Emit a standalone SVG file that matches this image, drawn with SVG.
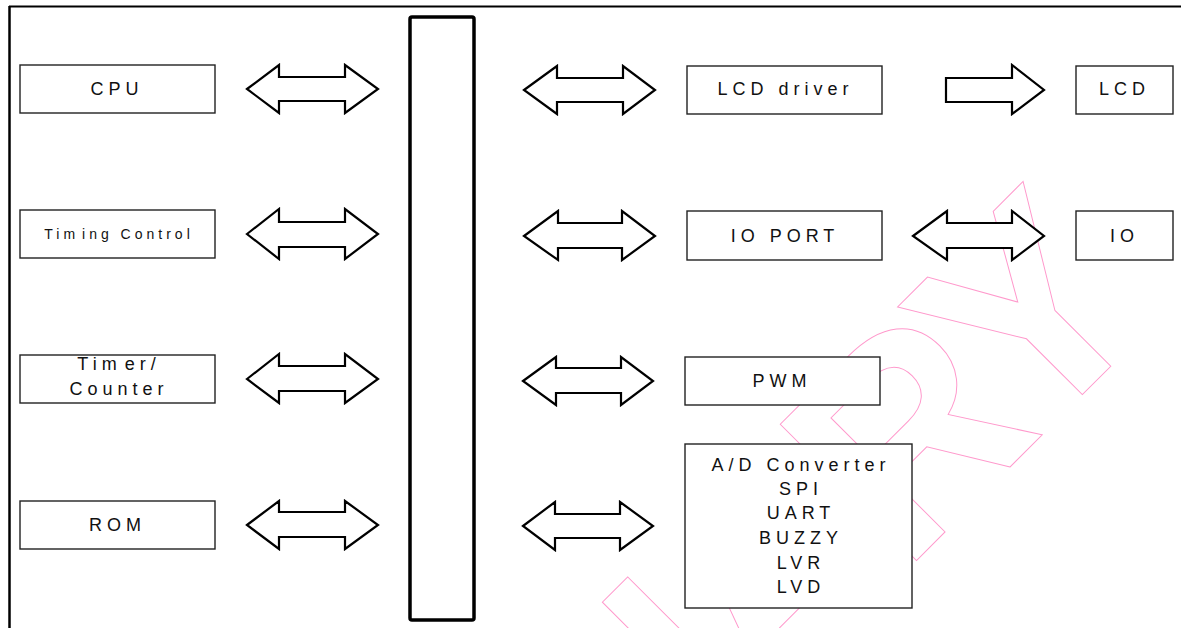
<svg xmlns="http://www.w3.org/2000/svg" width="1181" height="628" viewBox="0 0 1181 628">
<style>
.box{fill:#fff;stroke:#222;stroke-width:1.4}
.arr{fill:#fff;stroke:#000;stroke-width:2.2;stroke-linejoin:miter}
.lbl{font-family:"Liberation Sans",Arial,sans-serif;font-size:18px;fill:#111;text-anchor:middle;letter-spacing:5px}
.sm{font-size:14px;letter-spacing:4px}
.wm{font-family:"Liberation Sans",Arial,sans-serif;font-weight:bold;font-size:280px;fill:none;stroke:#ff99cc;stroke-width:1;text-anchor:end;letter-spacing:-12px}
</style>
<rect width="1181" height="628" fill="#fff"/>
<g id="watermark">
<text class="wm" x="1154" y="323" transform="rotate(-45 1154 323)">PRELIMINARY</text>
</g>
<g id="frame">
<line x1="9" y1="6.5" x2="1181" y2="6.5" stroke="#000" stroke-width="2"/>
<line x1="9.5" y1="6" x2="9.5" y2="628" stroke="#000" stroke-width="2.5"/>
</g>
<g id="bus"><rect x="410" y="17" width="64" height="603" rx="2" fill="#fff" stroke="#000" stroke-width="3.5"/></g>
<g id="connectors">
<polygon class="arr" points="247,89 279,65 279,77 345,77 345,65 378,89 345,113 345,101 279,101 279,113"/>
<polygon class="arr" points="247,234 279,209 279,222 345,222 345,209 378,234 345,259 345,247 279,247 279,259"/>
<polygon class="arr" points="247,379 279,354 279,366 345,366 345,354 378,379 345,403 345,391 279,391 279,403"/>
<polygon class="arr" points="247,525 279,501 279,512 345,512 345,501 378,525 345,549 345,537 279,537 279,549"/>
<polygon class="arr" points="524,90 557,66 557,78 623,78 623,66 655,90 623,114 623,102 557,102 557,114"/>
<polygon class="arr" points="524,236 558,211 558,223 622,223 622,211 655,236 622,260 622,248 558,248 558,260"/>
<polygon class="arr" points="523,381 556,357 556,368 621,368 621,357 653,381 621,405 621,393 556,393 556,405"/>
<polygon class="arr" points="523,526 555,502 555,514 620,514 620,502 653,526 620,550 620,538 555,538 555,550"/>
<polygon class="arr" points="946,78 1012,78 1012,65 1044,90 1012,114 1012,102 946,102"/>
<polygon class="arr" points="913,236 947,211 947,223 1012,223 1012,211 1044,236 1012,260 1012,248 947,248 947,260"/>
</g>
<g id="cpu"><rect class="box" x="20" y="65" width="195" height="48"/><text class="lbl" x="117" y="95">CPU</text></g>
<g id="timing"><rect class="box" x="20" y="210" width="195" height="48"/><text class="lbl sm" x="119" y="239"><tspan>Tim</tspan><tspan dx="3">ing Control</tspan></text></g>
<g id="timer"><rect class="box" x="20" y="355" width="195" height="48"/><text class="lbl" x="119" y="370"><tspan>Tim</tspan><tspan dx="3">er/</tspan><tspan x="119" y="395">Counter</tspan></text></g>
<g id="rom"><rect class="box" x="20" y="501" width="195" height="48"/><text class="lbl" x="117.5" y="531">ROM</text></g>
<g id="lcddriver"><rect class="box" x="687" y="66" width="195" height="48"/><text class="lbl" x="785.5" y="95">LCD driver</text></g>
<g id="ioport"><rect class="box" x="687" y="211" width="195" height="49"/><text class="lbl" x="785" y="242">IO PORT</text></g>
<g id="pwm"><rect class="box" x="685" y="357" width="195" height="48"/><text class="lbl" x="782" y="387">PWM</text></g>
<g id="adc"><rect class="box" x="685" y="444" width="227" height="164"/>
<text class="lbl" x="801" y="471">A/D Converter</text>
<text class="lbl" x="801" y="495">SPI</text>
<text class="lbl" x="801" y="519">UART</text>
<text class="lbl" x="801" y="544">BUZZY</text>
<text class="lbl" x="801" y="569">LVR</text>
<text class="lbl" x="801" y="593">LVD</text>
</g>
<g id="lcd"><rect class="box" x="1076" y="66" width="97" height="48"/><text class="lbl" x="1124.5" y="95">LCD</text></g>
<g id="io"><rect class="box" x="1076" y="211" width="97" height="49"/><text class="lbl" x="1124.5" y="242">IO</text></g>
</svg>
